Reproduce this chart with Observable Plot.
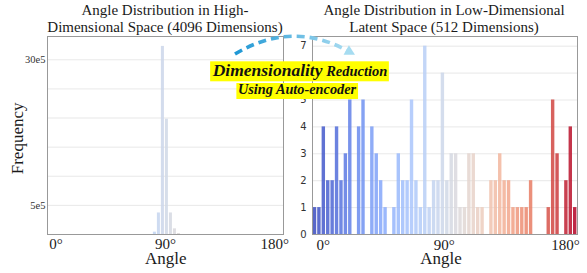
<!DOCTYPE html>
<html><head><meta charset="utf-8">
<script src="https://cdn.jsdelivr.net/npm/d3@7"></script>
<script src="https://cdn.jsdelivr.net/npm/@observablehq/plot@0.6"></script>
<style>
body{margin:0;background:#fff;}
#wrap{position:relative;width:587px;height:273px;overflow:hidden;background:#fff;}
#left{position:absolute;left:0;top:0;}
#right{position:absolute;left:290px;top:0;}
#over{position:absolute;left:0;top:0;}
</style></head><body>
<div id="wrap"><div id="left"></div><div id="right"></div><svg id="over" width="587" height="273"></svg></div>
<script>
const serif = "Liberation Serif, serif";
const sans = "DejaVu Sans, sans-serif";

// ---- data ----
const xTicks = [0, 90, 180];
const xTickLabels = ["0°", "90°", "180°"];

// High-dimensional (4096) histogram
const highBinStart = [79.7, 83.0, 86.3, 89.6, 92.9, 96.2, 99.5];
const highBinWidth = 3.3;
const highCounts = [0.4e5, 3.7e5, 32.3e5, 19.8e5, 3.7e5, 0.97e5, 0.17e5];
const highYTicks = [5e5, 10e5, 15e5, 20e5, 25e5, 30e5];
const highYLabels = ["5e5", "", "", "", "", "30e5"];

// Low-dimensional (512) histogram, 60 bins
const lowBinStart = -7.73;
const lowBinWidth = 3.276;
const lowCounts = [1,1,4,2,2,4,2,3,5,0, 4,5,0,4,3,2,1,0,1,3,
                   2,2,5,2,1,7,1,2,2,6, 2,3,3,1,1,3,3,1,1,0,
                   2,2,3,2,2,1,1,1,1,2, 0,0,0,1,5,3,0,2,4,1];
const lowYTicks = [0,1,2,3,4,5,6,7];

// coolwarm-like colormap
const coolwarm = d3.interpolateRgbBasis(["#3b4cc0","#5977e3","#7b9ff9","#9ebeff","#c0d4f5","#dddcdc","#f2cbb7","#f49a7b","#dc5d4a","#b40426"]);

const highData = highCounts.map((c, i) => ({
  x1: highBinStart[i], x2: highBinStart[i] + highBinWidth, y: c,
  color: coolwarm(Math.max(0, Math.min(1, (highBinStart[i] + highBinWidth / 2) / 180)))
}));
const lowData = lowCounts.map((c, i) => ({
  x1: lowBinStart + i * lowBinWidth, x2: lowBinStart + (i + 1) * lowBinWidth, y: c,
  color: coolwarm(i / (lowCounts.length - 1))
}));

function styleAxes(svg, yFamily, ySize, yFill) {
  const s = d3.select(svg);
  s.selectAll('g[aria-label="x-axis tick label"]').attr("font-family", serif).attr("font-size", 15)
    .style("font-family", serif).style("font-size", "15px").attr("fill", "#1a1a1a");
  s.selectAll('g[aria-label="y-axis tick label"]').attr("font-family", yFamily).attr("font-size", ySize)
    .style("font-family", yFamily).style("font-size", ySize + "px").attr("fill", yFill);
}

const left = Plot.plot({
  width: 290, height: 273,
  marginLeft: 47, marginRight: 7, marginTop: 36, marginBottom: 39,
  style: {color: "#222", background: "transparent"},
  x: {domain: [-7.04, 187.2]},
  y: {domain: [0, 34e5]},
  color: {type: "identity"},
  marks: [
    Plot.gridY(highYTicks, {stroke: "#d8d8d8", strokeOpacity: 0.6}),
    Plot.rectY(highData, {x1: "x1", x2: "x2", y: "y", fill: "color", fillOpacity: 0.85, insetLeft: 0.5, insetRight: 0.5}),
    Plot.frame({stroke: "#999"}),
    Plot.axisX(xTicks, {tickSize: 0, tickPadding: 4, fontSize: 15, fontFamily: serif, label: null,
      tickFormat: d => xTickLabels[xTicks.indexOf(d)]}),
    Plot.axisY(highYTicks, {tickSize: 0, tickPadding: 2, fontSize: 10.5, fontFamily: serif, label: null,
      tickFormat: d => highYLabels[highYTicks.indexOf(d)]})
  ]
});
styleAxes(left, serif, 10.5, "#333");
document.getElementById("left").append(left);

const right = Plot.plot({
  width: 297, height: 273,
  marginLeft: 22, marginRight: 10, marginTop: 36, marginBottom: 39,
  style: {color: "#222", background: "transparent"},
  x: {domain: [-7.95, 188.9]},
  y: {domain: [0, 7.36]},
  color: {type: "identity"},
  marks: [
    Plot.gridY(lowYTicks.filter(d => d > 0), {stroke: "#d8d8d8", strokeOpacity: 0.6}),
    Plot.rectY(lowData, {x1: "x1", x2: "x2", y: "y", fill: "color", fillOpacity: 0.85, insetLeft: 0.5, insetRight: 0.5}),
    Plot.frame({stroke: "#999"}),
    Plot.axisX(xTicks, {tickSize: 0, tickPadding: 5, fontSize: 15, fontFamily: serif, label: null,
      tickFormat: d => xTickLabels[xTicks.indexOf(d)]}),
    Plot.axisY(lowYTicks, {tickSize: 0, tickPadding: 6, fontSize: 10, fontFamily: sans, label: null,
      tickFormat: d => String(d)})
  ]
});
styleAxes(right, sans, 10, "#333");
document.getElementById("right").append(right);

// ---- overlay: titles, axis labels, annotation ----
const over = d3.select("#over");
function txt(x, y, s, size, opts = {}) {
  const t = over.append("text").attr("x", x).attr("y", y).attr("text-anchor", opts.anchor || "middle")
    .style("font-family", serif).style("font-size", size + "px").attr("fill", opts.fill || "#1a1a1a").text(s);
  if (opts.transform) t.attr("transform", opts.transform);
  return t;
}
txt(165, 15, "Angle Distribution in High-", 15);
txt(165, 31.5, "Dimensional Space (4096 Dimensions)", 15);
txt(444, 15, "Angle Distribution in Low-Dimensional", 15);
txt(444, 31.5, "Latent Space (512 Dimensions)", 15);
txt(0, 0, "Frequency", 17, {transform: "translate(23.3,138.4) rotate(-90)"});
txt(165.7, 263.5, "Angle", 17);
txt(441, 263.5, "Angle", 17);

// arrow
const defs = over.append("defs");
const grad = defs.append("linearGradient").attr("id", "ag").attr("gradientUnits", "userSpaceOnUse")
  .attr("x1", 235).attr("y1", 0).attr("x2", 356).attr("y2", 0);
grad.append("stop").attr("offset", 0).attr("stop-color", "#1e97d4");
grad.append("stop").attr("offset", 1).attr("stop-color", "#b3e1f3");
const p0 = [235, 54], pc = [292, 20], p1 = [348, 51];
over.append("path").attr("d", `M${p0}Q${pc} ${p1}`).attr("fill", "none")
  .attr("stroke", "url(#ag)").attr("stroke-width", 3.6).attr("stroke-dasharray", "8 5");
{
  const dx = p1[0] - pc[0], dy = p1[1] - pc[1], L = Math.hypot(dx, dy);
  const ux = dx / L, uy = dy / L, nx = -uy, ny = ux;
  const tip = [p1[0] + ux * 8, p1[1] + uy * 8];
  const b = [p1[0] - ux * 2, p1[1] - uy * 2];
  over.append("polygon").attr("points", [tip, [b[0] + nx * 5.5, b[1] + ny * 5.5], [b[0] - nx * 5.5, b[1] - ny * 5.5]].map(p => p.join(",")).join(" "))
    .attr("fill", "#a6dcf1");
}

// annotation boxes
const gA = over.append("g");
function boxed(x, baseline, parts, top, bottom) {
  const r = gA.append("rect").attr("fill", "#ffff00");
  const t = gA.append("text").attr("x", x).attr("y", baseline).attr("text-anchor", "middle")
    .style("font-family", serif).style("font-weight", "bold").style("font-style", "italic").attr("fill", "#111");
  parts.forEach(([s, size]) => t.append("tspan").style("font-size", size + "px").text(s));
  const bb = t.node().getBBox();
  r.attr("x", bb.x - 1.5).attr("width", bb.width + 3).attr("y", baseline - top).attr("height", top + bottom);
}
boxed(300, 76.3, [["Dimensionality", 17.5], [" Reduction", 14.5]], 15, 5);
boxed(297, 93.8, [["Using Auto-encoder", 14.3]], 10.8, 5.2);
</script>
</body></html>
